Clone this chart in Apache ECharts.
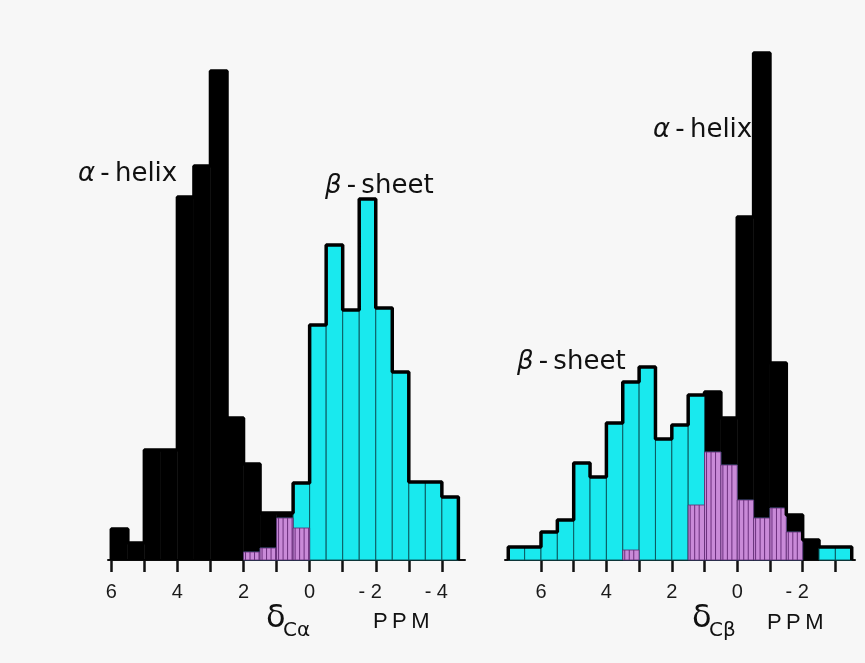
<!DOCTYPE html>
<html>
<head>
<meta charset="utf-8">
<script src="https://cdn.jsdelivr.net/npm/echarts@6/dist/echarts.min.js"></script>
<style>
html, body { margin: 0; padding: 0; background: #f7f7f7; }
#main { width: 865px; height: 663px; }
</style>
</head>
<body>
<div id="main"></div>
<script>
// based on prepared DOM, initialize echarts instance
var myChart = echarts.init(document.getElementById('main'));

// C-alpha shift histogram, bin edges in ppm (0.5 ppm bins)
var caEdges = [6, 5.5, 5, 4.5, 4, 3.5, 3, 2.5, 2, 1.5, 1, 0.5, 0, -0.5, -1, -1.5, -2, -2.5, -3, -3.5, -4, -4.5];
var caHelix = [31, 17, 110, 110, 363, 394, 489, 142, 96, 47, 47, 32, 0, 0, 0, 0, 0, 0, 0, 0, 0];
var caSheet = [0, 0, 0, 0, 0, 0, 0, 0, 8, 12, 42, 77, 235, 315, 250, 361, 252, 188, 78, 78, 63];
var caTicks = [6, 5, 4, 3, 2, 1, 0, -1, -2, -3, -4];
var caLabels = [6, 4, 2, 0, -2, -4];

// C-beta shift histogram
var cbEdges = [7, 6.5, 6, 5.5, 5, 4.5, 4, 3.5, 3, 2.5, 2, 1.5, 1, 0.5, 0, -0.5, -1, -1.5, -2, -2.5, -3, -3.5];
var cbHelix = [0, 0, 0, 0, 0, 0, 0, 10, 0, 0, 0, 55, 168, 142, 343, 507, 197, 45, 20, 0, 0];
var cbSheet = [13, 13, 28, 40, 97, 83, 137, 178, 193, 121, 135, 165, 108, 95, 60, 42, 52, 28, 0, 13, 13];
var cbTicks = [6, 5, 4, 3, 2, 1, 0, -1, -2, -3];
var cbLabels = [6, 4, 2, 0, -2];

function bins(edges, vals) {
    return vals.map(function (v, i) { return [edges[i], edges[i + 1], v]; });
}
function overlap(edges, a, b) {
    return a.map(function (v, i) { return [edges[i], edges[i + 1], Math.min(v, b[i])]; });
}
function envelope(edges, a, b) {
    var pts = [[edges[0], 0]];
    for (var i = 0; i < a.length; i++) pts.push([edges[i], Math.max(a[i], b[i])]);
    pts.push([edges[a.length], 0]);
    return pts;
}

function rectOf(api) {
    var v = api.value(2);
    if (!v) return null;
    var a = api.coord([api.value(0), v]);
    var b = api.coord([api.value(1), 0]);
    var x0 = Math.min(a[0], b[0]), x1 = Math.max(a[0], b[0]);
    return { x: x0, y: a[1], width: x1 - x0, height: b[1] - a[1] };
}
function plainBar(fill, stroke, lw) {
    return function (params, api) {
        var r = rectOf(api);
        if (!r) return;
        return { type: 'rect', shape: r, style: { fill: fill, stroke: stroke, lineWidth: lw } };
    };
}
// hatched purple where both structures overlap
function hatchBar(params, api) {
    var r = rectOf(api);
    if (!r) return;
    var kids = [{ type: 'rect', shape: r, style: { fill: '#c98ad8', stroke: '#5e2a70', lineWidth: 0.8 } }];
    for (var x = r.x + 2; x < r.x + r.width - 1; x += 4.5) {
        kids.push({ type: 'line', shape: { x1: x, y1: r.y, x2: x, y2: r.y + r.height },
            style: { stroke: '#6b2f7d', lineWidth: 1 } });
    }
    return { type: 'group', children: kids };
}

function negFmt(v) {
    return v < 0 ? '- ' + (-v) + '  ' : String(v);
}
function xAxisCfg(idx, min, max, ticks, labels) {
    return {
        gridIndex: idx, type: 'value', min: min, max: max, inverse: true,
        splitLine: { show: false },
        axisLine: { lineStyle: { color: '#111', width: 2 } },
        axisTick: { customValues: ticks, length: 12, lineStyle: { color: '#111', width: 2.5 } },
        axisLabel: { customValues: labels, formatter: negFmt, margin: 22, color: '#1a1a1a',
            fontSize: 20, fontFamily: 'Liberation Sans' }
    };
}

function panelSeries(idx, edges, helix, sheet) {
    return [
        { type: 'custom', xAxisIndex: idx, yAxisIndex: idx, renderItem: plainBar('#000', '#000', 0.5),
            encode: { x: [0, 1], y: 2 }, data: bins(edges, helix), z: 2 },
        { type: 'custom', xAxisIndex: idx, yAxisIndex: idx, renderItem: plainBar('#19e9ee', '#0b5a60', 1),
            encode: { x: [0, 1], y: 2 }, data: bins(edges, sheet), z: 3 },
        { type: 'custom', xAxisIndex: idx, yAxisIndex: idx, renderItem: hatchBar,
            encode: { x: [0, 1], y: 2 }, data: overlap(edges, helix, sheet), z: 4 },
        { type: 'line', xAxisIndex: idx, yAxisIndex: idx, step: 'end', symbol: 'none',
            data: envelope(edges, helix, sheet), lineStyle: { color: '#000', width: 3.5 }, z: 5 }
    ];
}

var labelFont = '26px "DejaVu Sans"';
function note(x, y, greek, rest) {
    return { type: 'text', x: x, y: y, style: {
        text: '{g|' + greek + '}' + rest, font: labelFont, fill: '#111', verticalAlign: 'middle',
        rich: { g: { fontStyle: 'italic', fontSize: 26, fontFamily: 'DejaVu Sans' } }
    } };
}
function axisTitle(x, sub) {
    return [
        { type: 'text', x: x, y: 619, style: { text: 'δ', font: '32px "DejaVu Sans"', fill: '#111', verticalAlign: 'middle' } },
        { type: 'text', x: x + 17, y: 631, style: { text: sub, font: '20px "DejaVu Sans"', fill: '#111', verticalAlign: 'middle' } }
    ];
}

option = {
    backgroundColor: '#f7f7f7',
    animation: false,
    grid: [
        { left: 108, top: 40, width: 357, height: 520 },
        { left: 505, top: 40, width: 350, height: 520 }
    ],
    xAxis: [
        xAxisCfg(0, -4.7, 6.1, caTicks, caLabels),
        xAxisCfg(1, -3.6, 7.1, cbTicks, cbLabels)
    ],
    yAxis: [
        { gridIndex: 0, type: 'value', min: 0, max: 520, show: false },
        { gridIndex: 1, type: 'value', min: 0, max: 520, show: false }
    ],
    graphic: [
        note(78, 174, 'α', '\u2009-\u2009helix'),
        note(325, 186, 'β', '\u2009-\u2009sheet'),
        note(653, 130, 'α', '\u2009-\u2009helix'),
        note(517, 362, 'β', '\u2009-\u2009sheet')
    ].concat(axisTitle(266, 'Cα'), axisTitle(692, 'Cβ'), [
        { type: 'text', x: 373, y: 622, style: { text: 'P\u2009P\u2009M', font: '22px "Liberation Sans"', fill: '#111', verticalAlign: 'middle' } },
        { type: 'text', x: 767, y: 623, style: { text: 'P\u2009P\u2009M', font: '22px "Liberation Sans"', fill: '#111', verticalAlign: 'middle' } }
    ]),
    series: panelSeries(0, caEdges, caHelix, caSheet).concat(panelSeries(1, cbEdges, cbHelix, cbSheet))
};

// use configuration item and data specified to show chart
myChart.setOption(option);
</script>
</body>
</html>
